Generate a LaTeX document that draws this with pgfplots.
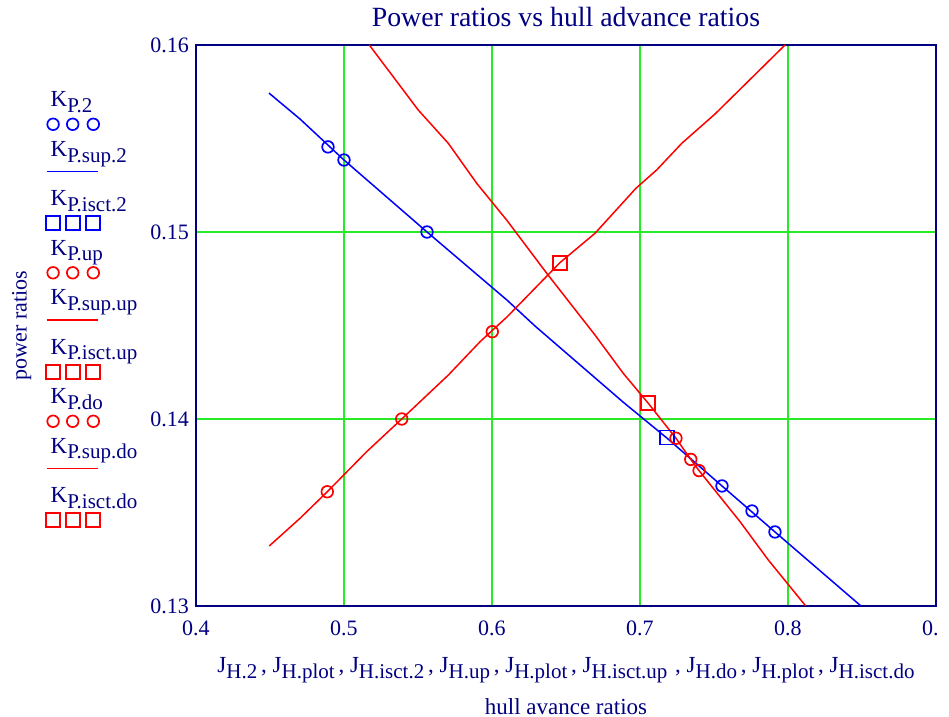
\documentclass[border=0pt]{standalone}
\usepackage{fontspec}
\setmainfont{Liberation Serif}
\usepackage{pgfplots}
\pgfplotsset{compat=1.18}

\definecolor{mcnavy}{RGB}{0,0,128}
\definecolor{mcgreen}{RGB}{40,235,40}
\definecolor{mcblue}{RGB}{0,0,255}
\definecolor{mcred}{RGB}{255,0,0}

% variable with a lowered subscript, Mathcad style
\newcommand{\sub}[2]{#1\raisebox{-0.55ex}{\fontsize{10.5}{11}\selectfont #2}}

\pgfplotsset{
  % legend glyphs sit below the label, as in Mathcad
  legmarks/.style={legend image code/.code={%
      \draw[overlay,##1] plot coordinates {(1.2pt,-8.8pt) (11pt,-8.8pt) (21.3pt,-8.8pt)};}},
  legline/.style={legend image code/.code={%
      \draw[overlay,##1] (-2pt,-7.7pt) -- (23.8pt,-7.7pt);}},
  circ/.style={only marks, mark=o, mark size=2.9pt, mark options={line width=0.85pt}, legmarks},
  sq/.style={only marks, mark=square, mark size=3.5pt, mark options={line width=0.85pt}, legmarks},
  crv/.style={no marks, line width=0.75pt, legline},
}

\begin{document}
\begin{tikzpicture}
\path[use as bounding box] (-98pt,-55.5pt) rectangle (376.5pt,303pt);
\begin{axis}[
    at={(0,0)}, anchor=south west,
    scale only axis,
    width=370pt, height=280.5pt,
    xmin=0.4, xmax=0.9, ymin=0.13, ymax=0.16,
    xtick={0.4,0.5,0.6,0.7,0.8,0.9},
    xticklabels={0.4,0.5,0.6,0.7,0.8,{0.\phantom{9}}},
    ytick={0.13,0.14,0.15,0.16},
    yticklabels={0.13,0.14,0.15,0.16},
    major tick length=0pt,
    xmajorgrids, ymajorgrids,
    grid style={mcgreen, line width=0.6pt},
    major grid style={mcgreen, line width=0.6pt},
    axis line style={mcnavy, line width=1pt},
    tick label style={font=\fontsize{11}{13}\selectfont, text=mcnavy},
    xticklabel style={yshift=-4pt},
    title={Power ratios vs hull advance ratios},
    title style={at={(axis description cs:0.5,1)}, anchor=base, yshift=3pt,
                 font=\fontsize{13.9}{16}\selectfont, text=mcnavy},
    ylabel={power ratios},
    ylabel style={at={(axis description cs:-0.2355,0.5)}, anchor=center,
                  font=\fontsize{11}{13}\selectfont, text=mcnavy},
    xlabel={\sub{J}{H.2}\,, \sub{J}{H.plot}\,, \sub{J}{H.isct.2}\,, \sub{J}{H.up}\,, \sub{J}{H.plot}\,, \sub{J}{H.isct.up}\,\,, \sub{J}{H.do}\,, \sub{J}{H.plot}\,, \sub{J}{H.isct.do}\\ hull avance ratios},
    xlabel style={at={(axis description cs:0.5,0)}, anchor=north, yshift=-25.5pt,
                  inner sep=0pt, align=center,
                  font=\fontsize{11.5}{21}\selectfont, text=mcnavy},
    legend style={at={(axis description cs:-0.19635,0.92567)}, anchor=north west,
                  draw=none, fill=none, inner sep=0pt, outer sep=0pt,
                  row sep=11.75pt, column sep=0pt,
                  nodes={inner sep=0pt, text height=10pt, text depth=3pt,
                         font=\fontsize{11.5}{13}\selectfont, text=mcnavy}},
    legend cell align=left,
    legend style={cells={anchor=base west}},
]

% K_P.2 : blue circles
\addplot[mcblue, circ] coordinates {
  (0.4892,0.15455) (0.5000,0.15385) (0.5561,0.15000)
  (0.7554,0.13642) (0.7757,0.13508) (0.7912,0.13396)
};
\addlegendentry{\sub{K}{P.2}}

% K_P.sup.2 : blue curve
\addplot[mcblue, crv] coordinates {
  (0.4493,0.15743) (0.4703,0.15604) (0.5000,0.15385) (0.5561,0.15000)
  (0.6101,0.14636) (0.6291,0.14497) (0.6885,0.14091) (0.7182,0.13898)
  (0.7554,0.13642) (0.7912,0.13396) (0.8493,0.13000)
};
\addlegendentry{\sub{K}{P.sup.2}}

% K_P.isct.2 : blue square
\addplot[mcblue, sq] coordinates {(0.7182,0.13901)};
\addlegendentry{\sub{K}{P.isct.2}}

% K_P.up : red circles
\addplot[mcred, circ] coordinates {
  (0.4887,0.13611) (0.5390,0.14000) (0.6002,0.14467)
};
\addlegendentry{\sub{K}{P.up}}

% K_P.sup.up : red rising curve
\addplot[mcred, crv] coordinates {
  (0.4495,0.13321) (0.4703,0.13469) (0.4887,0.13611) (0.5153,0.13825)
  (0.5390,0.14000) (0.5705,0.14235) (0.5919,0.14413) (0.6103,0.14547)
  (0.6459,0.14836) (0.6696,0.14993) (0.6973,0.15234) (0.7113,0.15332)
  (0.7282,0.15474) (0.7507,0.15631) (0.7980,0.16000)
};
\addlegendentry{\sub{K}{P.sup.up}}

% K_P.isct.up : red square
\addplot[mcred, sq] coordinates {(0.6459,0.14836)};
\addlegendentry{\sub{K}{P.isct.up}}

% K_P.do : red circles
\addplot[mcred, circ] coordinates {
  (0.7243,0.13897) (0.7343,0.13784) (0.7399,0.13724)
};
\addlegendentry{\sub{K}{P.do}}

% K_P.sup.do : red falling curve
\addplot[mcred, crv] coordinates {
  (0.5171,0.16000) (0.5502,0.15652) (0.5705,0.15474) (0.5897,0.15260)
  (0.6099,0.15064) (0.6370,0.14779) (0.6696,0.14449) (0.6887,0.14244)
  (0.7056,0.14084) (0.7243,0.13897) (0.7343,0.13784) (0.7399,0.13724)
  (0.7676,0.13451) (0.7867,0.13246) (0.8120,0.13000)
};
\addlegendentry{\sub{K}{P.sup.do}}

% K_P.isct.do : red square
\addplot[mcred, sq] coordinates {(0.7056,0.14084)};
\addlegendentry{\sub{K}{P.isct.do}}

\end{axis}
\end{tikzpicture}
\end{document}
